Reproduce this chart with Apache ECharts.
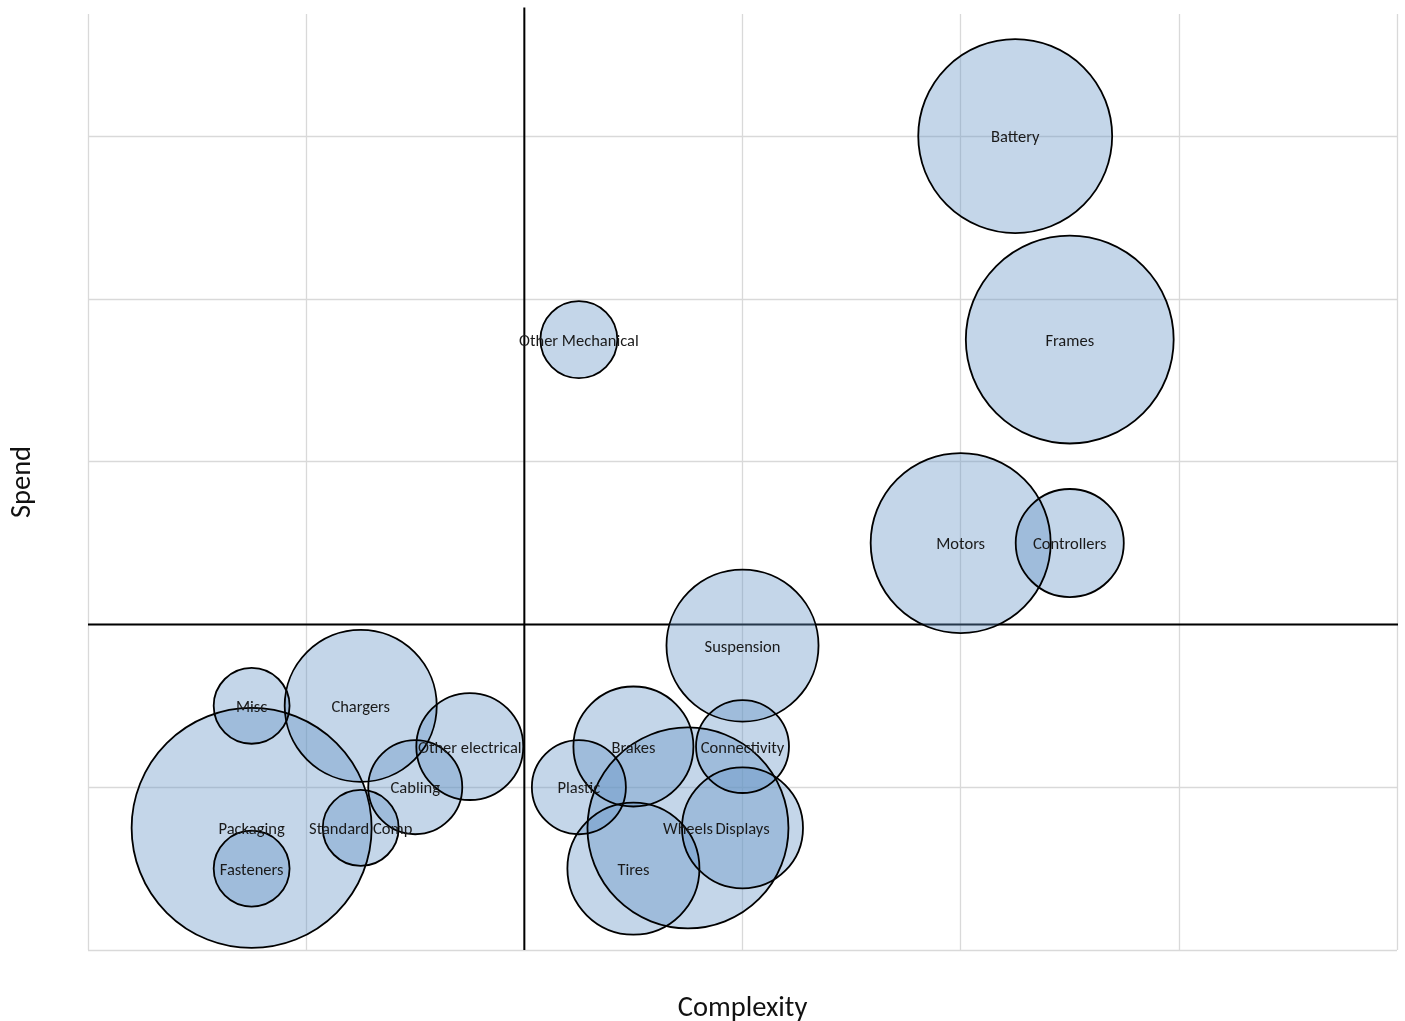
<!DOCTYPE html>
<html>
<head>
<meta charset="utf-8">
<title>Spend vs Complexity</title>
<script src="https://cdn.jsdelivr.net/npm/echarts@6/dist/echarts.min.js"></script>
<style>
  html, body { margin: 0; padding: 0; background: #ffffff; }
  #chart { width: 1405px; height: 1021px; }
</style>
</head>
<body>
<div id="chart"></div>
<script>
// Purchasing categories plotted by complexity (x) and spend (y); bubble area = volume
const categories = ['Battery', 'Frames', 'Other Mechanical', 'Motors', 'Controllers', 'Suspension',
  'Misc', 'Chargers', 'Other electrical', 'Cabling', 'Packaging', 'Standard Comp', 'Fasteners',
  'Brakes', 'Connectivity', 'Plastic', 'Wheels', 'Displays', 'Tires'];
const complexity = [4.25, 4.5, 2.25, 4.0, 4.5, 3.0, 0.75, 1.25, 1.75, 1.5, 0.75, 1.25, 0.75,
  2.5, 3.0, 2.25, 2.75, 3.0, 2.5];
const spend = [5.0, 3.75, 3.75, 2.5, 2.5, 1.87, 1.5, 1.5, 1.25, 1.0, 0.75, 0.75, 0.5,
  1.25, 1.25, 1.0, 0.75, 0.75, 0.5];
const volume = [94, 108, 14.8, 81, 29.2, 57.8, 14.4, 57.8, 28.6, 22.1, 144, 14.4, 14.4,
  36, 21.6, 22.1, 101, 36.6, 43.6];

// Quadrant dividers (complexity = 2, spend = 2), drawn as two straight segments
const verticalDivider = [[2, 0], [2, 5.79]];
const horizontalDivider = [[0, 2], [6.015, 2]];

const points = categories.map((name, i) => ({
  name: name,
  value: [complexity[i], spend[i], volume[i]]
}));

const bubbleSize = v => 20 * Math.sqrt(v[2]);
const font = 'Carlito, Calibri, Lato, sans-serif';

const dividerSeries = data => ({
  type: 'line',
  data: data,
  symbol: 'none',
  clip: false,
  silent: true,
  z: 1,
  lineStyle: { color: '#000', width: 2 }
});

const chart = echarts.init(document.getElementById('chart'), null, { renderer: 'canvas' });

chart.setOption({
  animation: false,
  backgroundColor: '#ffffff',
  grid: { left: 88, right: 8, top: 14, bottom: 71, outerBoundsMode: 'none', containLabel: false },
  xAxis: {
    type: 'value',
    min: 0, max: 6, interval: 1,
    name: 'Complexity',
    nameLocation: 'middle',
    nameGap: 44,
    nameTextStyle: { fontFamily: font, fontSize: 28.5, color: '#111' },
    axisLine: { show: false },
    axisTick: { show: false },
    axisLabel: { show: false },
    splitLine: { show: true, lineStyle: { color: '#d9d9d9', width: 1.3 } }
  },
  yAxis: {
    type: 'value',
    min: 0, max: 5.75, interval: 1,
    name: 'Spend',
    nameLocation: 'middle',
    nameRotate: 90,
    nameGap: 51,
    nameTextStyle: { fontFamily: font, fontSize: 28.5, color: '#111' },
    axisLine: { show: false },
    axisTick: { show: false },
    axisLabel: { show: false },
    splitLine: {
      show: true,
      lineStyle: {
        color: ['#d9d9d9', '#d9d9d9', '#d9d9d9', '#d9d9d9', '#d9d9d9', '#d9d9d9', 'rgba(0,0,0,0)'],
        width: 1.3
      }
    }
  },
  series: [
    dividerSeries(verticalDivider),
    dividerSeries(horizontalDivider),
    {
      // translucent fills
      type: 'scatter',
      data: points,
      symbol: 'circle',
      symbolSize: bubbleSize,
      clip: false,
      silent: true,
      z: 2,
      itemStyle: { color: 'rgba(100,146,196,0.38)', borderWidth: 0, opacity: 1 }
    },
    {
      // outlines and labels on top
      type: 'scatter',
      data: points,
      symbol: 'circle',
      symbolSize: bubbleSize,
      clip: false,
      silent: true,
      z: 3,
      itemStyle: { color: 'rgba(0,0,0,0)', borderColor: '#000', borderWidth: 1.8, opacity: 1 },
      label: {
        show: true,
        position: 'inside',
        offset: [0, 2],
        formatter: p => p.name,
        fontFamily: font,
        fontSize: 16.5,
        color: '#1a1a1a'
      }
    }
  ]
});
</script>
</body>
</html>
